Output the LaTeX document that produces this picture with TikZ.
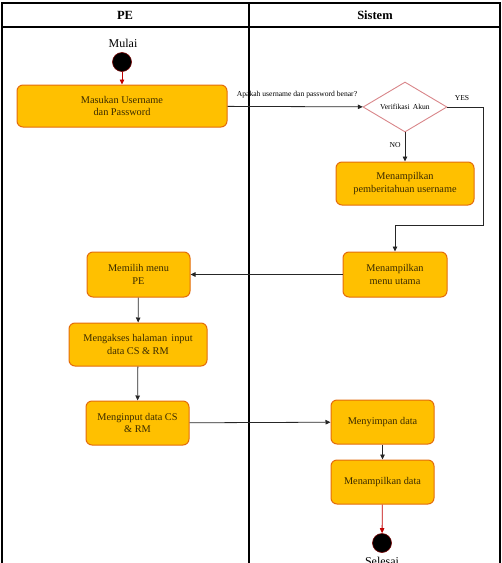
\documentclass[tikz,border=0pt]{standalone}
\usepackage{fontspec}
\setmainfont{Liberation Serif}
\usetikzlibrary{shapes.geometric,arrows.meta}
\definecolor{boxfill}{HTML}{FFC000}
\definecolor{boxline}{HTML}{E46C0A}
\definecolor{txt}{HTML}{3A2A00}
\definecolor{redline}{HTML}{C00000}
\definecolor{dialine}{HTML}{D9868A}
\tikzset{
  act/.style={draw=boxline, line width=1pt, fill=boxfill, rounded corners=6pt,
    align=center, font=\fontsize{10.3}{12.5}\selectfont, text=txt, inner sep=2pt},
  conn/.style={draw=black!85, line width=0.8pt, -{Triangle[length=5pt,width=4.5pt]}},
  redconn/.style={draw=redline, line width=0.8pt, -{Triangle[length=5pt,width=4.5pt]}},
  dot/.style={circle, fill=black, draw=redline!60!black, line width=0.6pt, minimum size=19pt, inner sep=0pt},
  dec/.style={diamond, draw=dialine, line width=0.9pt, fill=white, minimum width=84pt, minimum height=50pt,
    inner sep=0pt, font=\fontsize{7.6}{9}\selectfont, aspect=1.68},
  small/.style={font=\fontsize{7.6}{9}\selectfont, inner sep=1pt},
  frame/.style={draw=black, line width=1.2pt},
  hdr/.style={font=\bfseries\fontsize{12.5}{14}\selectfont}
}
\begin{document}
\begin{tikzpicture}[x=1pt,y=1pt]
\clip (0,0) rectangle (502,-563);
% swimlane frame
\draw[frame] (2,-600) -- (2,-3) -- (500,-3) -- (500,-600);
\draw[frame] (2,-27) -- (500,-27);
\draw[frame] (249,-3) -- (249,-600);
\node[hdr] (hpe) at (125,-15) {PE};
\node[hdr] (hsis) at (375,-15) {Sistem};
% start
\node[font=\fontsize{12}{14}\selectfont] (mulai) at (123,-43) {Mulai};
\node[dot] (start) at (122,-62) {};
% activities
\node[act, minimum width=210pt, minimum height=42pt] (b1) at (122,-106) {Masukan Username\\dan Password};
\node[dec] (dia) at (405,-107) {Verifikasi\, Akun};
\node[act, minimum width=138pt, minimum height=43pt] (b2) at (405,-183.5) {Menampilkan\\pemberitahuan username};
\node[act, minimum width=104pt, minimum height=45pt] (b3) at (395,-274.5) {Menampilkan\\menu utama};
\node[act, minimum width=103pt, minimum height=45pt] (b4) at (138.5,-274.5) {Memilih menu\\PE};
\node[act, minimum width=138pt, minimum height=43pt] (b5) at (138,-344.5) {Mengakses halaman\, input\\data CS \& RM};
\node[act, minimum width=103pt, minimum height=44pt] (b6) at (137.5,-423) {Menginput data CS\\\& RM};
\node[act, minimum width=103pt, minimum height=44pt] (b7) at (382.5,-422) {Menyimpan data};
\node[act, minimum width=103pt, minimum height=44pt] (b8) at (382.5,-482) {Menampilkan data};
% end
\node[dot] (end) at (382,-543) {};
\node[font=\fontsize{12}{14}\selectfont] (selesai) at (382,-561) {Selesai};
% connectors
\draw[redconn] (start) -- (b1);
\draw[conn] (b1) -- (dia);
\node[small] (q) at (297,-95) {Apakah username dan password benar?};
\draw[conn] (dia) -- node[small, pos=0.42, left=3pt] (no) {NO} (b2.north -| dia.south);
\coordinate (yesc) at (483,-225);
\draw[conn] (dia.east) -- (dia.east -| yesc) -- (yesc) -| (b3.north);
\node[small] (yes) at (462,-98) {YES};
\draw[conn] (b3) -- (b4);
\draw[conn] (b4) -- (b5);
\draw[conn] (b5) -- (b6);
\draw[conn] (b6) -- (b7);
\draw[conn] (b7) -- (b8);
\draw[redconn] (b8) -- (end);
\end{tikzpicture}
\end{document}
